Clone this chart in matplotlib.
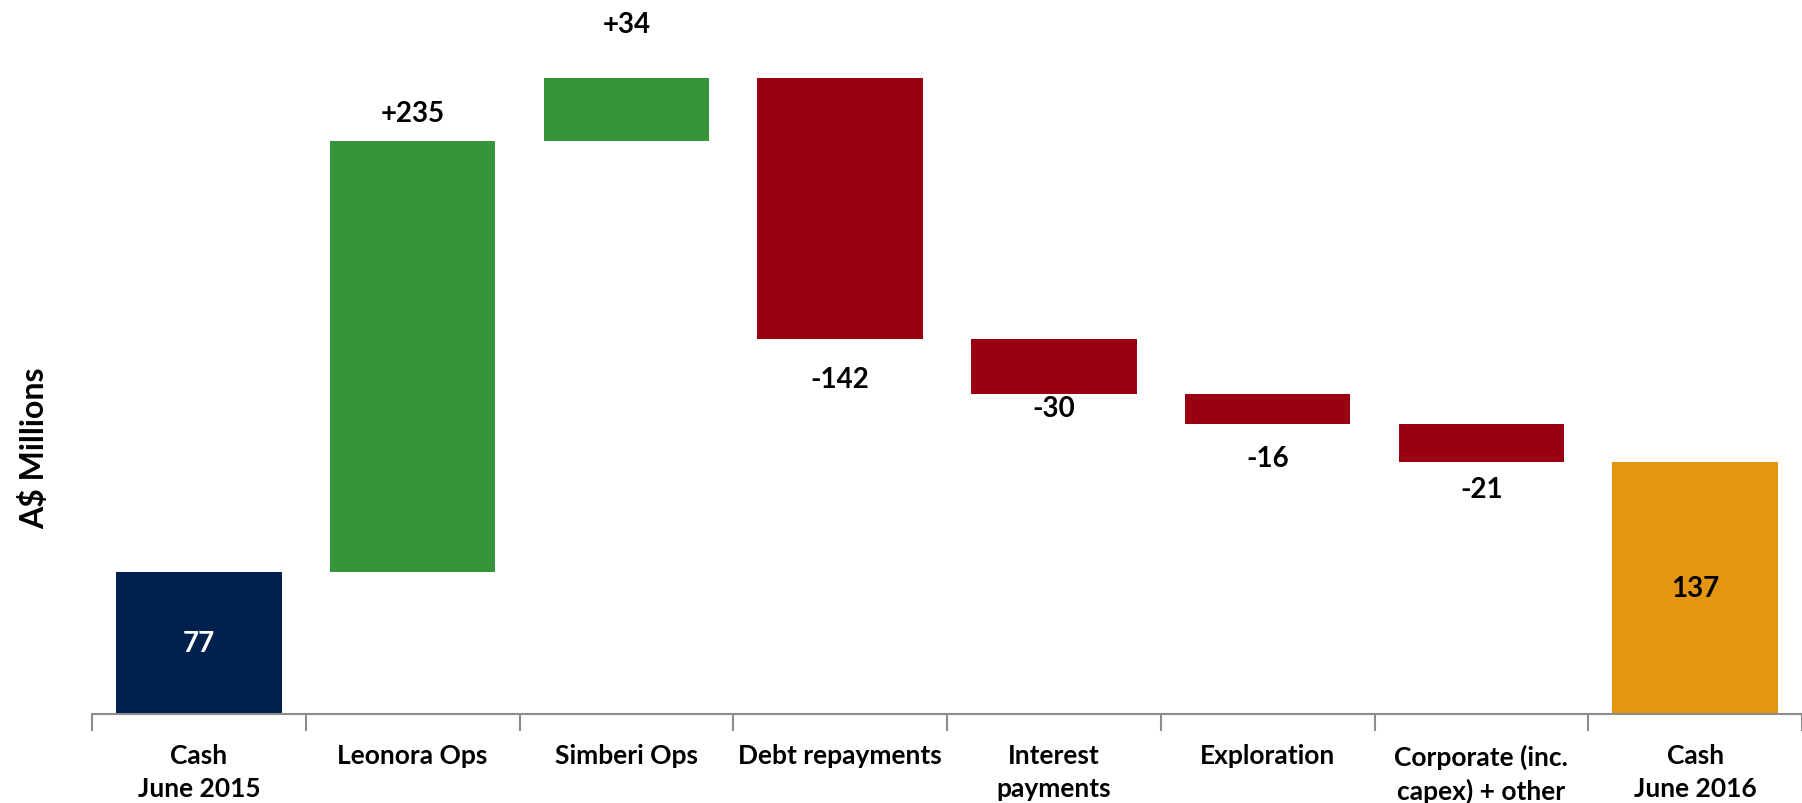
import matplotlib
matplotlib.use('Agg')
import matplotlib.pyplot as plt
import numpy as np

# Cash movement June 2015 -> June 2016 (A$ Millions)
categories = ['Cash\nJune 2015', 'Leonora Ops', 'Simberi Ops', 'Debt repayments',
              'Interest\npayments', 'Exploration', 'Corporate (inc.\ncapex) + other',
              'Cash\nJune 2016']
opening = 77
changes = [235, 34, -142, -30, -16, -21]
closing = 137
labels = ['77', '+235', '+34', '-142', '-30', '-16', '-21', '137']

# label offsets from bar edge, in points (as placed in the original)
label_offsets = [0, 20, 39, -29, -10, -25, -19, 0]

navy = '#00214D'
green = '#36953B'
red = '#9A0012'
orange = '#E49613'

plt.rcParams['font.family'] = ['Lato', 'DejaVu Sans']
plt.rcParams['font.weight'] = 'bold'

fig = plt.figure(figsize=(18.02, 8.04), dpi=100)
ax = fig.add_axes([92 / 1802, 89 / 804, 1710 / 1802, 715 / 804])

x = np.arange(len(categories))
width = 0.775

# opening bar
ax.bar(x[0], opening, width, color=navy)
ax.text(x[0], opening / 2, labels[0], ha='center', va='center', color='white',
        fontsize=20, fontweight='bold')

# step bars
level = opening
for i, c in enumerate(changes, start=1):
    bottom = level if c > 0 else level + c
    ax.bar(x[i], abs(c), width, bottom=bottom, color=green if c > 0 else red)
    ax.annotate(labels[i], (x[i], level + c), xytext=(0, label_offsets[i]),
                textcoords='offset points', ha='center', va='center',
                fontsize=20, fontweight='bold')
    level += c

# closing bar
ax.bar(x[-1], closing, width, color=orange)
ax.text(x[-1], closing / 2, labels[-1], ha='center', va='center', color='black',
        fontsize=20, fontweight='bold')

ax.set_xlim(-0.5, 7.442)
ax.set_ylim(0, 389)

for side in ['top', 'right', 'left']:
    ax.spines[side].set_visible(False)
ax.spines['bottom'].set_color('#8C8C8C')
ax.spines['bottom'].set_linewidth(1.5)
ax.set_yticks([])

ax.set_xticks(x)
ax.set_xticklabels(categories, fontsize=19, fontweight='bold', linespacing=1.45)
ax.tick_params(axis='x', which='major', length=0, pad=21)
ax.set_xticks(np.arange(-0.5, len(categories), 1), minor=True)
ax.tick_params(axis='x', which='minor', length=12, width=1.5, color='#8C8C8C')

fig.text(34 / 1802, 1 - 448 / 804, 'A$ Millions', rotation=90, ha='center', va='center',
         fontsize=23, fontweight='bold')

fig.savefig('out.png', dpi=100)
